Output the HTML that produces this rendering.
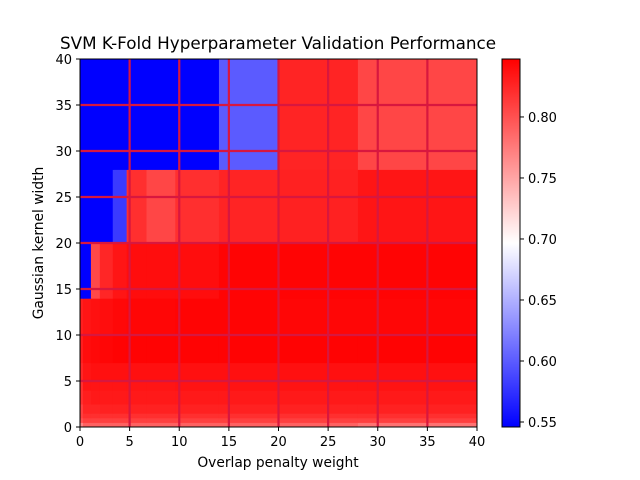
<!DOCTYPE html>
<html><head><meta charset="utf-8"><style>
body{margin:0;background:#fff;}
svg{display:block;font-family:"DejaVu Sans","Liberation Sans",sans-serif;}
</style></head><body>
<svg id="chart" width="640" height="480" viewBox="0 0 640 480" xmlns="http://www.w3.org/2000/svg">
<rect width="640" height="480" fill="#fff"/>
<text x="278" y="49" font-size="16.8" text-anchor="middle">SVM K-Fold Hyperparameter Validation Performance</text>
<g id="cells"></g>
<g id="grid"></g>
<rect x="80" y="59" width="397" height="368" fill="none" stroke="#000" stroke-width="1"/>
<g id="axes"></g>
<text x="278" y="467" font-size="13.8" text-anchor="middle">Overlap penalty weight</text>
<text transform="translate(43,243) rotate(-90)" font-size="13.8" text-anchor="middle">Gaussian kernel width</text>
<defs><linearGradient id="bwr" x1="0" y1="1" x2="0" y2="0">
<stop offset="0" stop-color="#0000ff"/><stop offset="0.5" stop-color="#ffffff"/><stop offset="1" stop-color="#ff0000"/></linearGradient></defs>
<rect x="502" y="59" width="18" height="368" fill="url(#bwr)" stroke="#000" stroke-width="1"/>
<g id="cbar"></g>
</svg>
<script>
const xEdges=[0,0.3,1.1,2,3.3,4.7,6.7,9.6,14,20,28,40];
const yEdges=[0,0.5,1,1.5,2.5,4,5,7,10,14,20,28,40];
// values rows from bottom (y=0) to top, columns left to right
const scores=[
[0.77,0.79,0.79,0.79,0.79,0.79,0.79,0.79,0.79,0.79,0.78],
[0.80,0.81,0.81,0.81,0.81,0.81,0.81,0.81,0.81,0.81,0.81],
[0.81,0.82,0.82,0.82,0.82,0.82,0.82,0.82,0.82,0.82,0.82],
[0.81,0.826,0.826,0.828,0.828,0.828,0.828,0.828,0.828,0.828,0.828],
[0.82,0.83,0.833,0.833,0.833,0.833,0.833,0.833,0.833,0.833,0.833],
[0.82,0.835,0.835,0.835,0.835,0.835,0.835,0.836,0.836,0.836,0.836],
[0.825,0.835,0.838,0.838,0.838,0.838,0.838,0.838,0.838,0.838,0.838],
[0.83,0.84,0.842,0.844,0.846,0.846,0.846,0.846,0.846,0.846,0.846],
[0.83,0.835,0.838,0.84,0.843,0.844,0.844,0.845,0.845,0.844,0.844],
[0.545,0.545,0.805,0.825,0.835,0.84,0.84,0.84,0.845,0.845,0.845],
[0.545,0.545,0.545,0.545,0.58,0.82,0.806,0.82,0.826,0.828,0.835],
[0.545,0.545,0.545,0.545,0.545,0.545,0.545,0.545,0.60,0.826,0.806]
];
const xTicks=[0,5,10,15,20,25,30,35,40];
const yTicks=[0,5,10,15,20,25,30,35,40];
const cbTicks=[0.55,0.60,0.65,0.70,0.75,0.80];
const cbLabels=["0.55","0.60","0.65","0.70","0.75","0.80"];
const vmin=0.5459, vmax=0.8475;
const X=v=>80+v*397/40, Y=v=>427-v*368/40, CY=v=>427-(v-vmin)/(vmax-vmin)*368;
function color(v){let t=(v-vmin)/(vmax-vmin);t=Math.max(0,Math.min(1,t));
 if(t<0.5){const c=Math.round(2*t*255);return `rgb(${c},${c},255)`;}
 const c=Math.round((1-t)*2*255);return `rgb(255,${c},${c})`;}
const NS="http://www.w3.org/2000/svg";
function mk(tag,attrs,parent){const e=document.createElementNS(NS,tag);for(const k in attrs)e.setAttribute(k,attrs[k]);parent.appendChild(e);return e;}
const cells=document.getElementById('cells');
scores.forEach((row,i)=>row.forEach((v,j)=>{
 const r=mk('rect',{x:X(xEdges[j]),y:Y(yEdges[i+1]),width:X(xEdges[j+1])-X(xEdges[j])+0.5,height:Y(yEdges[i])-Y(yEdges[i+1])+0.5,fill:color(v)},cells);
 
 
}));
const grid=document.getElementById('grid');
xTicks.slice(1,-1).forEach(t=>{const l=mk('line',{x1:X(t),x2:X(t),y1:59,y2:427,stroke:'#d8173f','stroke-width':2.2},grid);
 
 });
yTicks.slice(1,-1).forEach(t=>{const l=mk('line',{x1:80,x2:477,y1:Y(t),y2:Y(t),stroke:'#d8173f','stroke-width':2.2},grid);
 
 });
const axes=document.getElementById('axes');
xTicks.forEach(t=>{mk('line',{x1:X(t),x2:X(t),y1:427,y2:431,stroke:'#000'},axes);
 const tx=mk('text',{x:X(t),y:446,'font-size':13,'text-anchor':'middle'},axes);tx.textContent=t;
 
 });
yTicks.forEach(t=>{mk('line',{x1:76,x2:80,y1:Y(t),y2:Y(t),stroke:'#000'},axes);
 const tx=mk('text',{x:72,y:Y(t)+5,'font-size':13,'text-anchor':'end'},axes);tx.textContent=t;
 
 });
const cb=document.getElementById('cbar');
cbTicks.forEach((t,i)=>{mk('line',{x1:520,x2:524,y1:CY(t),y2:CY(t),stroke:'#000'},cb);
 const tx=mk('text',{x:528,y:CY(t)+5,'font-size':13},cb);tx.textContent=cbLabels[i];
 
 });
</script>
</body></html>
